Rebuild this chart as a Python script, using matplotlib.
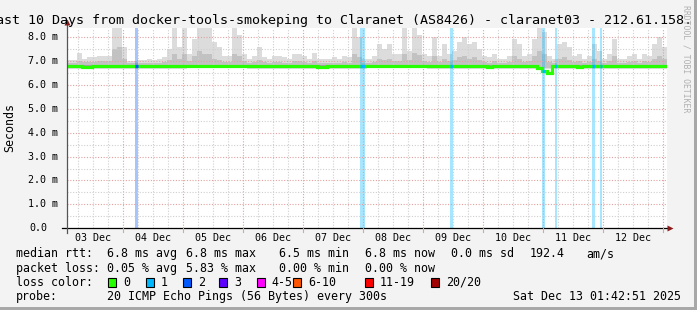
import numpy as np
import matplotlib
matplotlib.use("Agg")
import matplotlib.pyplot as plt
from matplotlib.patches import Rectangle

W, H, DPI = 697, 310, 100

# time axis in hours since 03 Dec 00:00, 2 hour bins
t_start = 1.75
bin_h = 2.0
day_labels = ["03 Dec", "04 Dec", "05 Dec", "06 Dec", "07 Dec",
              "08 Dec", "09 Dec", "10 Dec", "11 Dec", "12 Dec"]
y_labels = ["0.0", "1.0 m", "2.0 m", "3.0 m", "4.0 m", "5.0 m", "6.0 m", "7.0 m", "8.0 m"]

# smoke (ms), one value per 2h bin
smoke_max = [7.05, 7.05, 7.35, 7.1, 7.15, 7.15, 7.2, 7.2, 7.2, 8.4,
             8.4, 7.6, 7.0, 7.0, 7.05, 7.05, 7.1, 7.05, 7.1, 7.15,
             7.5, 8.4, 7.6, 8.4, 7.3, 7.9, 8.4, 8.4, 8.4, 7.8,
             7.6, 7.2, 7.2, 8.4, 8.1, 7.3, 7.1, 7.2, 7.6, 7.15,
             7.1, 7.2, 7.2, 7.15, 7.1, 7.3, 7.3, 7.2, 7.1, 7.35,
             7.1, 7.1, 7.1, 7.15, 7.1, 7.2, 7.15, 8.4, 8.0, 7.1,
             7.1, 7.2, 7.7, 7.5, 7.7, 7.3, 7.3, 8.4, 7.4, 8.4,
             8.1, 7.3, 7.2, 8.0, 7.2, 7.7, 7.3, 7.4, 7.8, 8.0,
             7.7, 7.8, 7.5, 7.2, 7.15, 7.3, 7.1, 7.1, 7.2, 7.9,
             7.7, 7.2, 7.3, 7.9, 8.4, 8.2, 7.2, 7.1, 7.7, 7.8,
             7.6, 7.2, 7.3, 7.1, 7.2, 7.7, 7.4, 7.1, 7.3, 7.9,
             7.1, 7.1, 7.2, 7.3, 7.1, 7.3, 7.2, 7.7, 8.0, 7.6]
smoke_mid = [6.92, 6.92, 6.98, 6.95, 6.95, 6.97, 7.0, 7.0, 6.98, 7.5,
             7.6, 7.1, 6.9, 6.9, 6.92, 6.9, 6.93, 6.9, 6.92, 6.95,
             7.05, 7.3, 7.1, 7.3, 7.0, 7.2, 7.4, 7.3, 7.3, 7.1,
             7.05, 6.95, 6.95, 7.3, 7.2, 7.0, 6.92, 6.95, 7.05, 6.95,
             6.92, 6.95, 6.95, 6.93, 6.92, 7.0, 7.0, 6.95, 6.92, 7.0,
             6.92, 6.92, 6.92, 6.93, 6.92, 6.95, 6.93, 7.3, 7.15, 6.92,
             6.92, 6.95, 7.1, 7.05, 7.1, 7.0, 7.0, 7.3, 7.05, 7.35,
             7.25, 7.0, 6.95, 7.2, 6.95, 7.1, 7.0, 7.05, 7.15, 7.2,
             7.1, 7.15, 7.05, 6.95, 6.93, 7.0, 6.92, 6.92, 6.95, 7.2,
             7.1, 6.95, 7.0, 7.2, 7.4, 7.3, 6.95, 6.92, 7.1, 7.15,
             7.05, 6.95, 7.0, 6.92, 6.95, 7.1, 7.0, 6.92, 7.0, 7.2,
             6.92, 6.92, 6.95, 7.0, 6.92, 7.0, 6.95, 7.1, 7.2, 7.1]
# lower edge of smoke, one value per day
smoke_low_day = [6.68, 6.68, 6.69, 6.68, 6.68, 6.69, 6.68, 6.68, 6.67, 6.68]
median = [6.78, 6.78, 6.77, 6.76, 6.76, 6.77, 6.78, 6.78, 6.78, 6.79,
          6.79, 6.78, 6.77, 6.77, 6.77, 6.78, 6.78, 6.77, 6.77, 6.78,
          6.78, 6.79, 6.78, 6.79, 6.78, 6.78, 6.79, 6.79, 6.78, 6.78,
          6.77, 6.77, 6.78, 6.78, 6.78, 6.77, 6.77, 6.77, 6.78, 6.77,
          6.77, 6.78, 6.78, 6.78, 6.77, 6.78, 6.79, 6.78, 6.77, 6.78,
          6.76, 6.76, 6.77, 6.77, 6.78, 6.78, 6.77, 6.78, 6.78, 6.78,
          6.78, 6.77, 6.77, 6.77, 6.78, 6.78, 6.77, 6.78, 6.78, 6.79,
          6.79, 6.78, 6.77, 6.78, 6.78, 6.79, 6.78, 6.78, 6.79, 6.78,
          6.78, 6.78, 6.77, 6.77, 6.76, 6.77, 6.77, 6.77, 6.78, 6.78,
          6.78, 6.78, 6.77, 6.78, 6.70, 6.58, 6.48, 6.78, 6.78, 6.78,
          6.77, 6.77, 6.76, 6.77, 6.77, 6.78, 6.78, 6.77, 6.77, 6.78,
          6.79, 6.79, 6.78, 6.78, 6.79, 6.79, 6.78, 6.78, 6.79, 6.78]

# loss events: start hour, duration (h), lost pings of 20
loss_start = [29.0, 119.0, 155.0, 191.75, 197.0, 211.75, 215.0]
loss_dur = [1.0, 2.0, 1.0, 1.25, 0.75, 1.25, 0.75]
loss_count = [2, 1, 1, 1, 1, 1, 1]

loss_names = ["0", "1", "2", "3", "4-5", "6-10", "11-19", "20/20"]
loss_colors = ["#26ff00", "#00b8ff", "#0059ff", "#5e00ff", "#ff00ff",
               "#ff5500", "#ff0000", "#a10000"]

n = len(smoke_max)
edges = t_start + bin_h * np.arange(n + 1)
t_end = edges[-1]
smoke_low = np.repeat(smoke_low_day, n // len(smoke_low_day))

fig = plt.figure(figsize=(W / DPI, H / DPI), dpi=DPI, facecolor="#f3f3f3")
x0, x1, ytop, ybot = 67, 667, 27.7, 228.3
ax = fig.add_axes([x0 / W, 1 - ybot / H, (x1 - x0) / W, (ybot - ytop) / H])
ax.set_facecolor("white")
ymax = 8.39
ax.set_xlim(t_start, t_end)
ax.set_ylim(0, ymax)
for s in ax.spines.values():
    s.set_visible(False)

# smoke
ax.stairs(smoke_max, edges, baseline=smoke_low, fill=True, color="#dcdcdc", zorder=1)
ax.stairs(smoke_mid, edges, baseline=smoke_low + 0.04, fill=True, color="#c2c2c2", zorder=1.1)
ax.stairs(np.array(median) + 0.06, edges, baseline=np.array(median) - 0.03,
          fill=True, color="#a0a0a0", zorder=1.2)

# loss bars
for s0, d, c in zip(loss_start, loss_dur, loss_count):
    ax.axvspan(s0, s0 + d, color=loss_colors[c], alpha=0.35, lw=0, zorder=1.5)

# grid
for h in np.arange(0, 246, 6):
    if h < t_start or h > t_end:
        continue
    if h % 24 == 0:
        ax.axvline(h, color="#e4a0a0", lw=0.8, ls=(0, (1, 1.5)), zorder=2)
    else:
        ax.axvline(h, color="#cfcfcf", lw=0.8, ls=(0, (1, 1.5)), zorder=2)
for v in np.arange(0.5, 8.5, 0.5):
    if v % 1 == 0:
        ax.axhline(v, color="#e4a0a0", lw=0.8, ls=(0, (1, 1.5)), zorder=2)
    else:
        ax.axhline(v, color="#cfcfcf", lw=0.8, ls=(0, (1, 1.5)), zorder=2)

# median line
ax.stairs(median, edges, baseline=None, color=loss_colors[0], lw=2.3, zorder=3)
for s0, d, c in zip(loss_start, loss_dur, loss_count):
    i = int((s0 - t_start) // bin_h)
    ax.hlines(median[i], s0, s0 + d, color=loss_colors[c], lw=2.3, zorder=3.1)

# x labels at noon
mono = "DejaVu Sans Mono"
noons = [12 + 24 * k for k in range(len(day_labels))]
ax.set_xticks(noons, day_labels, family=mono, fontsize=7.2)
ax.tick_params(axis="x", length=0, pad=3.5)
ax.set_yticks([])
for k, lab in enumerate(y_labels):
    ax.text(-8.5 / 600 - (0.0 if k else 11 / 600), k, lab, transform=ax.get_yaxis_transform(),
            ha="right", va="center", family=mono, fontsize=7.2)

# axes lines with arrows
def ax_px(px, py):
    return (px - x0) / (x1 - x0), (ybot - py) / (ybot - ytop)

ax.plot(*zip(ax_px(62, ybot), ax_px(669, ybot)), color="black", lw=0.9,
        transform=ax.transAxes, clip_on=False, zorder=5)
ax.plot(*zip(ax_px(x0, 232.5), ax_px(x0, 23)), color="#555555", lw=0.9,
        transform=ax.transAxes, clip_on=False, zorder=5)
ax.plot(*ax_px(670, ybot), marker=">", ms=4.5, color="#8b1a1a", mec="none",
        transform=ax.transAxes, clip_on=False, zorder=6)
ax.plot(*ax_px(x0, 22), marker="^", ms=4.5, color="#8b1a1a", mec="none",
        transform=ax.transAxes, clip_on=False, zorder=6)
for h in range(24, 246, 24):
    if t_start < h < t_end:
        ax.plot([h, h], [0, -0.16], color="#e4a0a0", lw=0.8, clip_on=False, zorder=5)

# title and labels
def ftxt(px, py, s, **kw):
    kw.setdefault("family", mono)
    kw.setdefault("fontsize", 8.4)
    fig.text(px / W, 1 - py / H, s, **kw)

ftxt(-12, 24, "Last 10 Days from docker-tools-smokeping to Claranet (AS8426) - claranet03 - 212.61.158.",
     fontsize=9.6, va="baseline")
ftxt(10, 128, "Seconds", rotation=90, ha="center", va="center")
ftxt(686, 5, "RRDTOOL / TOBI OETIKER", rotation=270, ha="center", va="top",
     fontsize=5.9, color="#b0b0b0")

# legend
rows = [257.3, 271.6, 285.9, 300.2]
ftxt(16, rows[0], "median rtt:", va="baseline")
for px, s in [(107.3, "6.8 ms avg"), (185.7, "6.8 ms max"), (279.3, "6.5 ms min"),
              (365, "6.8 ms now"), (451, "0.0 ms sd"), (530, "192.4"), (586, "am/s")]:
    ftxt(px, rows[0], s, va="baseline")
ftxt(16, rows[1], "packet loss:", va="baseline")
for px, s in [(107.3, "0.05 % avg"), (186, "5.83 % max"), (279.3, "0.00 % min"),
              (365, "0.00 % now")]:
    ftxt(px, rows[1], s, va="baseline")
ftxt(16, rows[2], "loss color:", va="baseline")
sw_x = [108.3, 145.7, 182.7, 219.3, 256.7, 293.3, 365, 430.7]
for px, name, col in zip(sw_x, loss_names, loss_colors):
    fig.patches.append(Rectangle((px / W, 1 - 286.5 / H), 8 / W, 9 / H, transform=fig.transFigure,
                                 facecolor=col, edgecolor="black", lw=0.8))
    ftxt(px + 15, rows[2], name, va="baseline")
ftxt(16, rows[3], "probe:", va="baseline")
ftxt(107.3, rows[3], "20 ICMP Echo Pings (56 Bytes) every 300s", va="baseline")
ftxt(681, rows[3], "Sat Dec 13 01:42:51 2025", va="baseline", ha="right")

# frame shade
fig.patches.append(Rectangle((694 / W, 0), 3 / W, 1, transform=fig.transFigure,
                             facecolor="#a8a8a8", edgecolor="none"))
fig.patches.append(Rectangle((0, 0), 1, 3 / H, transform=fig.transFigure,
                             facecolor="#a8a8a8", edgecolor="none"))

fig.savefig("out.png", dpi=DPI, facecolor=fig.get_facecolor())
